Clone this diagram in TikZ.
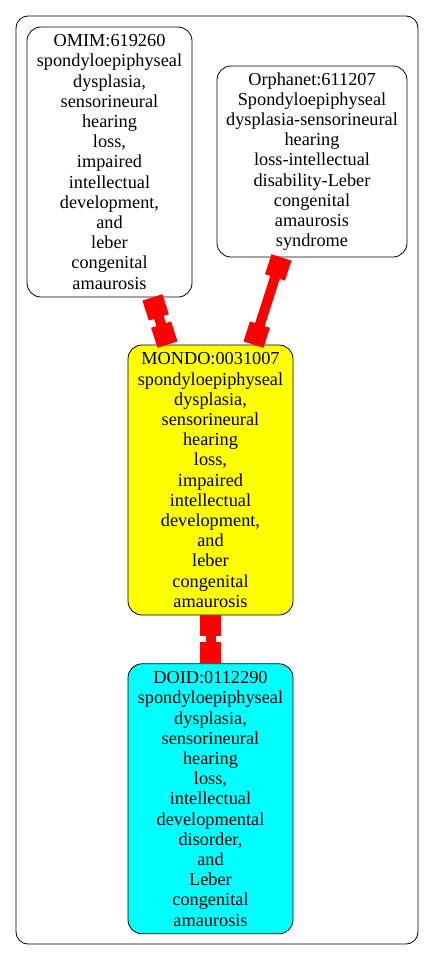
\documentclass[tikz,border=0pt]{standalone}
\usepackage{fontspec}
\setmainfont{Liberation Serif}
\usepackage{tikz}
\usetikzlibrary{arrows.meta, positioning}
\definecolor{mondoyellow}{RGB}{255,255,0}
\definecolor{doidcyan}{RGB}{0,255,255}
\definecolor{linkred}{RGB}{255,0,0}

\begin{document}
\begin{tikzpicture}[
  x=1pt, y=1pt,
  node distance=48pt,
  term/.style={rectangle, draw=black, rounded corners=14pt, thick,
               align=center, inner sep=0pt, minimum width=165pt,
               font=\fontsize{18.3}{20.2}\selectfont},
  omimbox/.style={term, fill=white, minimum height=270pt},
  orphabox/.style={term, fill=white, minimum width=190pt, minimum height=191pt},
  mondobox/.style={term, fill=mondoyellow, minimum height=270pt},
  doidbox/.style={term, fill=doidcyan, minimum height=270pt},
  link/.style={draw=linkred, line width=10pt,
               {Square[length=21pt,width=21pt]}-{Square[length=21pt,width=21pt]}}
]
\useasboundingbox (0,0) rectangle (435,-961);
\draw[thick, rounded corners=12pt] (16,-16) rectangle (418,-944);

\node[mondobox] (mondo) at (210.5,-480) {MONDO:0031007\\spondyloepiphyseal\\dysplasia,\\sensorineural\\hearing\\loss,\\impaired\\intellectual\\development,\\and\\leber\\congenital\\amaurosis};
\node[doidbox, below=of mondo] (doid) {DOID:0112290\\spondyloepiphyseal\\dysplasia,\\sensorineural\\hearing\\loss,\\intellectual\\developmental\\disorder,\\and\\Leber\\congenital\\amaurosis};
\node[omimbox] (omim) at (109.5,-162) {OMIM:619260\\spondyloepiphyseal\\dysplasia,\\sensorineural\\hearing\\loss,\\impaired\\intellectual\\development,\\and\\leber\\congenital\\amaurosis};
\node[orphabox] (orpha) at (312,-161.5) {Orphanet:611207\\Spondyloepiphyseal\\dysplasia-sensorineural\\hearing\\loss-intellectual\\disability-Leber\\congenital\\amaurosis\\syndrome};

\draw[link] (omim) -- (mondo);
\draw[link] (orpha) -- (mondo);
\draw[link] (mondo) -- (doid);
\end{tikzpicture}
\end{document}
